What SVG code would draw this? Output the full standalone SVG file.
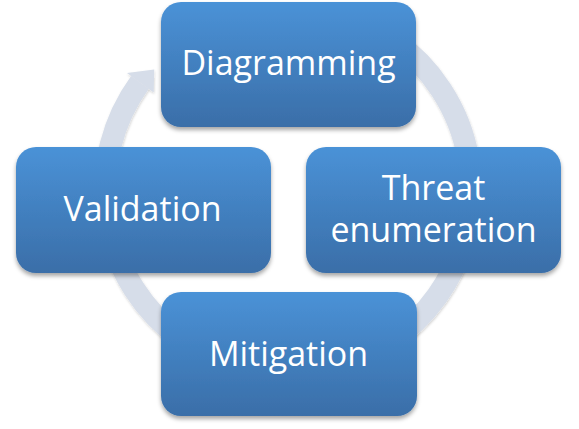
<svg xmlns="http://www.w3.org/2000/svg" width="579" height="429" viewBox="0 0 579 429">
  <defs>
    <linearGradient id="boxFill" x1="0" y1="0" x2="0" y2="1">
      <stop offset="0" stop-color="#4a92d7"/>
      <stop offset="1" stop-color="#3a6ea8"/>
    </linearGradient>
    <filter id="boxShadow" x="-10%" y="-10%" width="120%" height="125%">
      <feDropShadow dx="0" dy="3" stdDeviation="2.2" flood-color="#000" flood-opacity="0.35"/>
    </filter>
    <filter id="ringShadow" x="-10%" y="-10%" width="120%" height="120%">
      <feDropShadow dx="0.5" dy="1.5" stdDeviation="1.2" flood-color="#000" flood-opacity="0.18"/>
    </filter>
  </defs>
  <style>
    .box { fill: url(#boxFill); filter: url(#boxShadow); }
    .label { fill: #ffffff; font-family: "Open Sans", "Noto Sans", sans-serif; font-size: 34px; text-anchor: middle; }
    .ring { fill: none; stroke: #d6dde9; stroke-width: 22; }
    .head { fill: #d6dde9; }
  </style>
  <rect width="579" height="429" fill="#ffffff"/>
  <g id="connectors" filter="url(#ringShadow)">
    <path class="ring" d="M 393 40.1 A 183 183 0 1 1 140.0 82.4"/>
    <polygon class="head" points="127.0,73.0 154.2,69.6 153.7,92.4"/>
  </g>
  <g id="node-diagramming">
    <rect class="box" x="161" y="2" width="255" height="125" rx="20" ry="20"/>
    <text class="label" x="288.5" y="75">Diagramming</text>
  </g>
  <g id="node-threat-enumeration">
    <rect class="box" x="306" y="147" width="255" height="126" rx="20" ry="20"/>
    <text class="label" x="433.5" y="200">Threat</text>
    <text class="label" x="433.5" y="241.5">enumeration</text>
  </g>
  <g id="node-validation">
    <rect class="box" x="16" y="147" width="255" height="126" rx="20" ry="20"/>
    <text class="label" x="142.5" y="220.5">Validation</text>
  </g>
  <g id="node-mitigation">
    <rect class="box" x="161" y="292" width="256" height="124" rx="20" ry="20"/>
    <text class="label" x="288.5" y="365.5">Mitigation</text>
  </g>
</svg>
